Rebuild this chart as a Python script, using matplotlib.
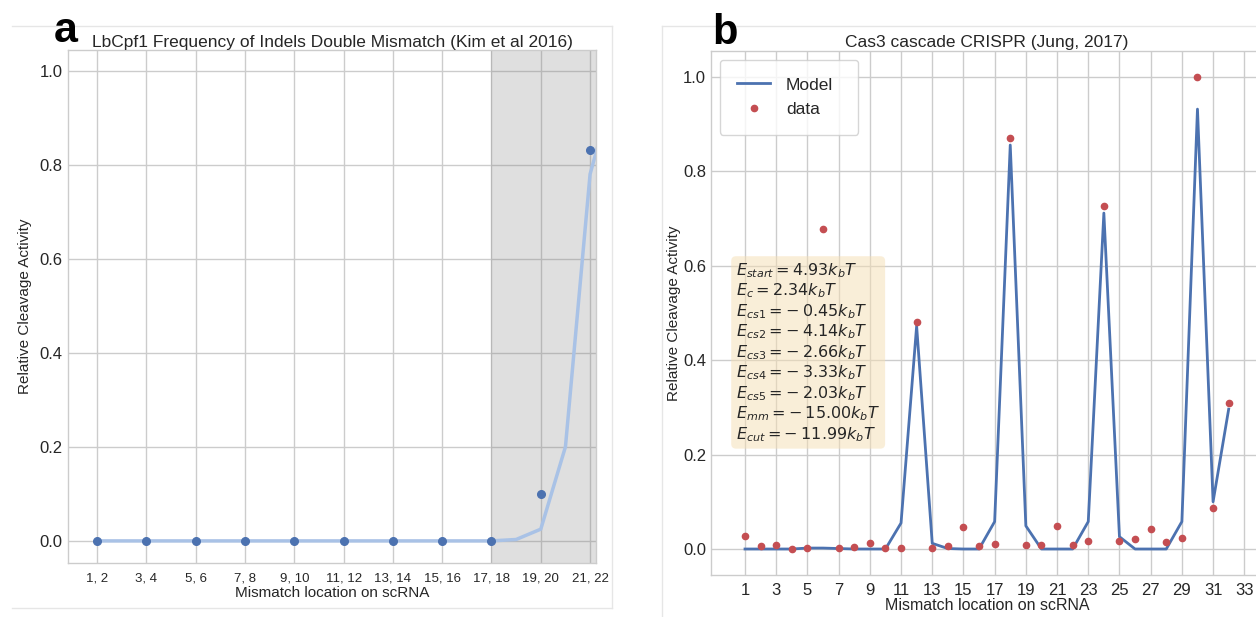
import matplotlib
matplotlib.use("Agg")
import matplotlib.pyplot as plt
from matplotlib.lines import Line2D
import numpy as np

# ---------------- data ----------------
# Panel a
a_tick_labels = ["1, 2", "3, 4", "5, 6", "7, 8", "9, 10", "11, 12",
                 "13, 14", "15, 16", "17, 18", "19, 20", "21, 22"]
a_data = [0.0, 0.0, 0.0, 0.0, 0.0, 0.0, 0.0, 0.0, 0.0, 0.099, 0.831]
a_model_pos = list(range(1, 23))            # nucleotide positions
a_model = [0, 0, 0, 0, 0, 0, 0, 0, 0, 0, 0, 0, 0, 0, 0, 0, 0,
           0.003, 0.025, 0.20, 0.78, 0.97]
a_shade_start = 8                            # index of "17, 18"

# Panel b
b_pos = list(range(1, 33))
b_data = [0.027, 0.007, 0.008, 0.001, 0.002, 0.677, 0.003, 0.005, 0.012, 0.002,
          0.002, 0.480, 0.002, 0.006, 0.046, 0.007, 0.010, 0.870, 0.008, 0.008,
          0.049, 0.008, 0.017, 0.726, 0.018, 0.022, 0.042, 0.015, 0.024, 1.000,
          0.086, 0.310]
b_model = [0.0, 0.0, 0.0, 0.0, 0.002, 0.002, 0.001, 0.0, 0.0, 0.0,
           0.055, 0.472, 0.012, 0.001, 0.0, 0.0, 0.058, 0.855, 0.049, 0.0,
           0.0, 0.0, 0.058, 0.711, 0.026, 0.0, 0.0, 0.0, 0.058, 0.931,
           0.100, 0.296]
b_ticks = list(range(1, 34, 2))

energy_names = ["start", "c", "cs1", "cs2", "cs3", "cs4", "cs5", "mm", "cut"]
energy_values = [4.93, 2.34, -0.45, -4.14, -2.66, -3.33, -2.03, -15.00, -11.99]

# ---------------- style ----------------
plt.rcParams["font.family"] = ["Liberation Sans", "DejaVu Sans"]
plt.rcParams["mathtext.fontset"] = "dejavusans"
BLUE = "#4c72b0"
LIGHTBLUE = "#a9c2e6"
RED = "#c44e52"
GRID = "#cccccc"
TXT = "#262626"

W, H = 1256, 617
fig = plt.figure(figsize=(W / 100, H / 100), dpi=100)
fig.patch.set_facecolor("white")


def px_axes(l, t, r, b):
    return fig.add_axes([l / W, 1 - b / H, (r - l) / W, (b - t) / H])


def style(ax):
    ax.set_facecolor("white")
    for s in ax.spines.values():
        s.set_color(GRID)
        s.set_linewidth(1.0)
    ax.grid(True, color=GRID, linewidth=1.0)
    ax.set_axisbelow(True)
    ax.tick_params(length=0, colors=TXT)


# ---------------- panel a ----------------
axa = px_axes(68, 50, 596, 563)
style(axa)
idx = np.arange(len(a_tick_labels))
axa.axvspan(a_shade_start, 20, color="#808080", alpha=0.25, lw=0, zorder=1.5)
mx = (np.array(a_model_pos) - 1) / 2.0
axa.plot(mx, a_model, color=LIGHTBLUE, lw=2.5, zorder=2)
axa.plot(idx, a_data, "o", color=BLUE, ms=5.5, zorder=3)
axa.set_xlim(-0.59, 10.12)
axa.set_ylim(-0.047, 1.044)
axa.set_xticks(idx)
axa.set_xticklabels(a_tick_labels, fontsize=9.5)
axa.set_yticks([0.0, 0.2, 0.4, 0.6, 0.8, 1.0])
axa.tick_params(axis="y", labelsize=12, pad=4)
axa.tick_params(axis="x", pad=7)
axa.set_xlabel("Mismatch location on scRNA", fontsize=11, color=TXT, labelpad=1)
axa.set_ylabel("Relative Cleavage Activity", fontsize=11, color=TXT, labelpad=5)
axa.set_title("LbCpf1 Frequency of Indels Double Mismatch (Kim et al 2016)",
              fontsize=12.5, color=TXT, pad=2)

# ---------------- panel b ----------------
axb = px_axes(711, 51, 1263, 575)
style(axb)
axb.plot(b_pos, b_model, color=BLUE, lw=2.0, label="Model", zorder=2)
axb.plot(b_pos, b_data, "o", color=RED, ms=4.5, label="data", zorder=3)
axb.set_xlim(-1.18, 34.2)
axb.set_ylim(-0.055, 1.054)
axb.set_xticks(b_ticks)
axb.set_yticks([0.0, 0.2, 0.4, 0.6, 0.8, 1.0])
axb.tick_params(axis="x", labelsize=12, pad=6)
axb.tick_params(axis="y", labelsize=12, pad=3.5)
axb.set_xlabel("Mismatch location on scRNA", fontsize=11.5, color=TXT, labelpad=0)
axb.set_ylabel("Relative Cleavage Activity", fontsize=11, color=TXT, labelpad=1.5)
axb.set_title("Cas3 cascade CRISPR (Jung, 2017)", fontsize=12.5, color=TXT, pad=3)

ax_w = 1263 - 711
ax_h = 575 - 51
leg = axb.legend(loc="upper left", fontsize=12.5, frameon=True,
                 bbox_to_anchor=((720 - 711) / ax_w, (575 - 60) / ax_h,
                                 138 / ax_w, 0.0),
                 mode="expand", borderaxespad=0.0, borderpad=1.0,
                 labelspacing=0.56, handlelength=1.9, handletextpad=0.9,
                 fancybox=True)
leg.get_frame().set_edgecolor(GRID)
for t in leg.get_texts():
    t.set_color(TXT)

lines = []
for n, v in zip(energy_names, energy_values):
    if v < 0:
        lines.append(r"$E_{%s} = -\:%.2fk_bT$" % (n, abs(v)))
    else:
        lines.append(r"$E_{%s} = %.2fk_bT$" % (n, v))
axb.text((736 - 711) / ax_w, (575 - 261) / ax_h, "\n".join(lines),
         transform=axb.transAxes,
         fontsize=11.5, va="top", ha="left", color=TXT, linespacing=1.13,
         bbox=dict(boxstyle="round,pad=0.3", facecolor="wheat", alpha=0.5,
                   edgecolor="none"))

# ---------------- panel letters and frames ----------------
fig.text(54 / W, 1 - 42 / H, "a", fontsize=31, fontweight="bold",
         va="baseline", ha="left", color="black")
fig.text(712 / W, 1 - 44 / H, "b", fontsize=30, fontweight="bold",
         va="baseline", ha="left", color="black")

FR = "#e6e6e6"
def fline(x0, y0, x1, y1):
    fig.add_artist(Line2D([x0 / W, x1 / W], [1 - y0 / H, 1 - y1 / H],
                          transform=fig.transFigure, color=FR, lw=1.0))

fline(12, 26, 612, 26)
fline(612, 26, 612, 608)
fline(12, 608, 612, 608)
fline(662, 26, 1256, 26)
fline(662, 26, 662, 617)

fig.savefig("out.png", dpi=100, facecolor="white")
